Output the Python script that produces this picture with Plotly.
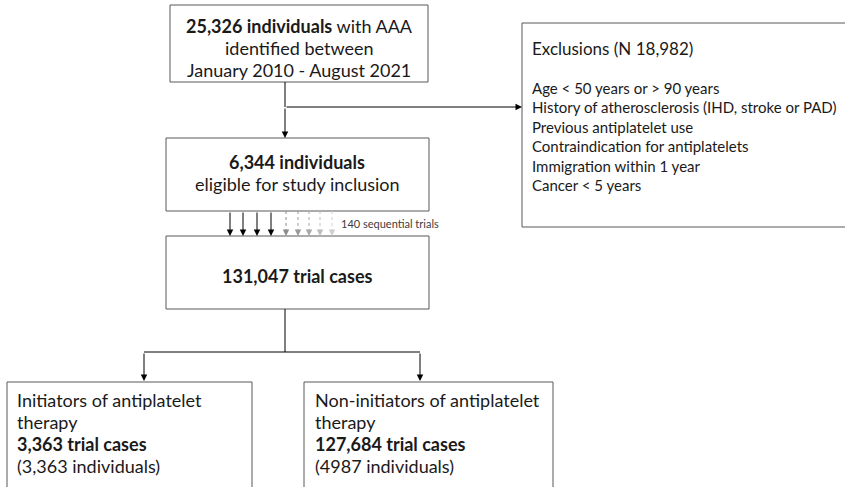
import plotly.graph_objects as go

# ---- text content (data) ----
top_lines = ["<b>25,326 individuals</b> with AAA", "identified between", "January 2010 - August 2021"]
excl_title = "Exclusions (N 18,982)"
excl_items = ["Age < 50 years or > 90 years",
              "History of atherosclerosis (IHD, stroke or PAD)",
              "Previous antiplatelet use",
              "Contraindication for antiplatelets",
              "Immigration within 1 year",
              "Cancer < 5 years"]
elig_lines = ["<b>6,344 individuals</b>", "eligible for study inclusion"]
trials_label = "140 sequential trials"
n_solid_arrows = 4
n_faded_arrows = 5
cases_line = "<b>131,047 trial cases</b>"
init_lines = ["Initiators of antiplatelet", "therapy", "<b>3,363 trial cases</b>", "(3,363 individuals)"]
noninit_lines = ["Non-initiators of antiplatelet", "therapy", "<b>127,684 trial cases</b>", "(4987 individuals)"]

FONT = "Lato"
BORDER = "#595959"
LINE = "#000000"

fig = go.Figure()
shapes = []
ann = []

def box(x0, y0, x1, y1):
    shapes.append(dict(type="rect", x0=x0, y0=y0, x1=x1, y1=y1, xref="x", yref="y",
                       line=dict(color=BORDER, width=1), fillcolor="white", layer="below"))

def seg(x0, y0, x1, y1, color=LINE, dash="solid"):
    shapes.append(dict(type="line", x0=x0, y0=y0, x1=x1, y1=y1, xref="x", yref="y",
                       line=dict(color=color, width=1, dash=dash)))

def arrow(x0, y0, x1, y1, color=LINE):
    ann.append(dict(x=x1, y=y1, ax=x0, ay=y0, xref="x", yref="y", axref="x", ayref="y",
                    text="", showarrow=True, arrowhead=2, arrowsize=1.3, arrowwidth=1,
                    arrowcolor=color))

def text(x, y, s, size=18, anchor="center", color="#1a1a1a"):
    ann.append(dict(x=x, y=y, xref="x", yref="y", text=s, showarrow=False,
                    xanchor=anchor, yanchor="middle",
                    font=dict(family=FONT, size=size, color=color)))

# boxes
box(170, 5, 428, 82)
box(522, 23, 860, 227)
box(166, 138, 429, 211)
box(166, 236, 429, 309)
box(7, 382, 252, 510)
box(304, 382, 553, 510)

# top box text
for i, s in enumerate(top_lines):
    text(299, 26 + i * 22, s)

# exclusion box text
text(530, 48, excl_title, size=17, anchor="left")
for i, s in enumerate(excl_items):
    text(530, 88 + i * 19.4, s, size=15, anchor="left")

# connectors top
seg(285, 82, 285, 107)
arrow(285, 107, 285, 138)
arrow(285, 107, 522, 107)

# eligible box
text(297, 162, elig_lines[0])
text(297, 184, elig_lines[1])

# sequential trial arrows
solid_x = [230, 243, 257, 271]
faded_x = [286, 298, 309, 320, 332]
faded_c = ["#8c8c8c", "#9a9a9a", "#a8a8a8", "#bdbdbd", "#cfcfcf"]
for k in range(n_solid_arrows):
    arrow(solid_x[k], 211, solid_x[k], 236)
for k in range(n_faded_arrows):
    seg(faded_x[k], 211, faded_x[k], 232, color=faded_c[k], dash="dot")
    arrow(faded_x[k], 231, faded_x[k], 236, color=faded_c[k])
text(339, 223, trials_label, size=11, anchor="left", color="#404040")

# cases box
text(297, 276, cases_line)

# bottom connectors
seg(285, 309, 285, 352)
seg(144, 352, 420, 352)
arrow(144, 352, 144, 381)
arrow(420, 352, 420, 381)

# bottom boxes text
for i, s in enumerate(init_lines):
    text(15, 400 + i * 22, s, anchor="left")
for i, s in enumerate(noninit_lines):
    text(313, 400 + i * 22, s, anchor="left")

fig.update_layout(
    width=845, height=487,
    margin=dict(l=0, r=0, t=0, b=0),
    paper_bgcolor="white", plot_bgcolor="white",
    xaxis=dict(range=[0, 845], visible=False, fixedrange=True),
    yaxis=dict(range=[487, 0], visible=False, fixedrange=True),
    shapes=shapes, annotations=ann, showlegend=False,
)
fig.write_html("out.html", config={"displayModeBar": False},
               post_script="document.body.style.margin='0px';document.body.style.overflow='hidden';")
